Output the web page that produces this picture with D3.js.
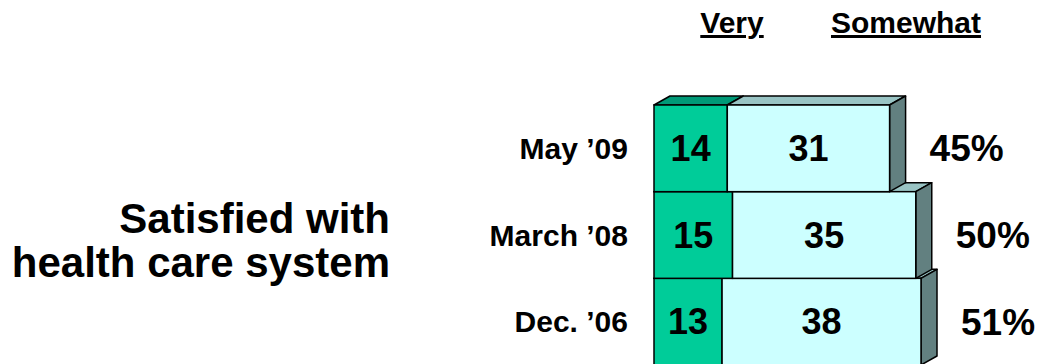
<!DOCTYPE html>
<html>
<head>
<meta charset="utf-8">
<script src="https://cdn.jsdelivr.net/npm/d3@7"></script>
<style>
  body { margin: 0; background: #fff; }
  text { font-family: "Liberation Sans", Arial, sans-serif; font-weight: bold; fill: #000; }
</style>
</head>
<body>
<div id="chart"></div>
<script>
// data
const periods = ["May \u201909", "March \u201908", "Dec. \u201906"];
const very = [14, 15, 13];
const somewhat = [31, 35, 38];
const totals = [45, 50, 51];
const seriesNames = ["Very", "Somewhat"];

const width = 1062, height = 364;
const depthX = 16, depthY = 9;

const svg = d3.select("#chart").append("svg")
  .attr("width", width)
  .attr("height", height);

const x = d3.scaleLinear().domain([0, 51]).range([654, 921]);
const y = d3.scaleBand().domain(periods).range([105, 365]).padding(0);

const rows = periods.map((p, i) => ({ p, v: very[i], s: somewhat[i], t: totals[i] }));

const bars = svg.append("g");

// draw bottom row first so upper rows sit in front
rows.slice().reverse().forEach(function (d) {
  const g = bars.append("g");
  const top = y(d.p), h = y.bandwidth();
  const x0 = x(0), x1 = x(d.v), x2 = x(d.v + d.s);

  const face = function (a, b) {
    return [[a, top], [a + depthX, top - depthY], [b + depthX, top - depthY], [b, top]];
  };
  // top faces
  g.append("polygon").attr("points", face(x0, x1).join(" "))
    .attr("fill", "#009977").attr("stroke", "#000").attr("stroke-width", 1.5).attr("stroke-linejoin", "round");
  g.append("polygon").attr("points", face(x1, x2).join(" "))
    .attr("fill", "#99c4c4").attr("stroke", "#000").attr("stroke-width", 1.5).attr("stroke-linejoin", "round");
  // right side
  g.append("polygon")
    .attr("points", [[x2, top], [x2 + depthX, top - depthY], [x2 + depthX, top + h - depthY], [x2, top + h]].join(" "))
    .attr("fill", "#628080").attr("stroke", "#000").attr("stroke-width", 1.5).attr("stroke-linejoin", "round");
  // fronts
  g.append("rect").attr("x", x0).attr("y", top).attr("width", x1 - x0).attr("height", h)
    .attr("fill", "#00cc99").attr("stroke", "#000").attr("stroke-width", 1.5);
  g.append("rect").attr("x", x1).attr("y", top).attr("width", x2 - x1).attr("height", h)
    .attr("fill", "#ccffff").attr("stroke", "#000").attr("stroke-width", 1.5);

  // values
  g.append("text").attr("x", (x0 + x1) / 2).attr("y", top + h / 2)
    .attr("text-anchor", "middle").attr("dy", "0.35em").style("font-size", "36px").text(d.v);
  g.append("text").attr("x", (x1 + x2) / 2).attr("y", top + h / 2)
    .attr("text-anchor", "middle").attr("dy", "0.35em").style("font-size", "36px").text(d.s);

  // total
  g.append("text").attr("x", x2 + depthX + 24).attr("y", top + h / 2)
    .attr("dy", "0.35em").style("font-size", "37px").text(d.t + "%");

  // period label
  g.append("text").attr("x", 628).attr("y", top + h / 2)
    .attr("text-anchor", "end").attr("dy", "0.35em").style("font-size", "30px").text(d.p);
});

// column headers
const hx = [732, 906];
seriesNames.forEach(function (n, i) {
  svg.append("text").attr("x", hx[i]).attr("y", 33)
    .attr("text-anchor", "middle").style("font-size", "30px")
    .style("text-decoration", "underline").text(n);
});

// title
svg.append("text").attr("x", 390).attr("y", 233)
  .attr("text-anchor", "end").style("font-size", "42px").text("Satisfied with");
svg.append("text").attr("x", 390).attr("y", 277)
  .attr("text-anchor", "end").style("font-size", "42px").text("health care system");
</script>
</body>
</html>
